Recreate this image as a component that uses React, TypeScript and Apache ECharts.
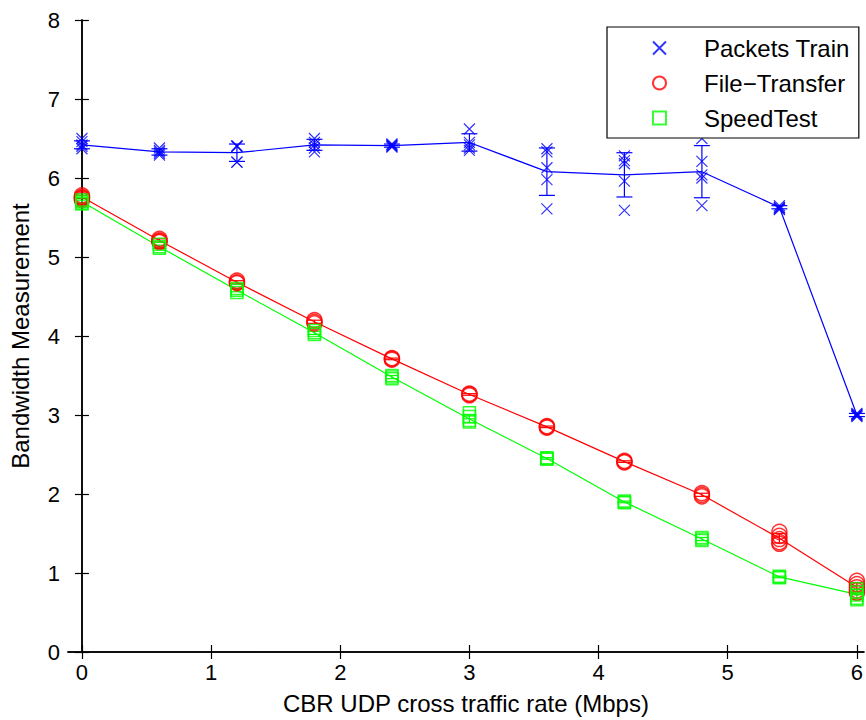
import React, { useEffect, useRef } from "react";
import * as echarts from "echarts";

const rates = [0, 0.6, 1.2, 1.8, 2.4, 3.0, 3.6, 4.2, 4.8, 5.4, 6.0];
const xTicks = [0, 1, 2, 3, 4, 5, 6];

const trainTrials = [
  [6.5, 6.46, 6.42, 6.4, 6.37],
  [6.38, 6.35, 6.33, 6.31, 6.29],
  [6.41, 6.4, 6.4, 6.2, 6.2],
  [6.5, 6.45, 6.42, 6.38, 6.33],
  [6.43, 6.42, 6.41, 6.4, 6.39],
  [6.62, 6.45, 6.42, 6.38, 6.35],
  [6.37, 6.33, 6.13, 5.98, 5.61],
  [6.28, 6.22, 6.18, 5.96, 5.59],
  [6.5, 6.21, 6.04, 6.0, 5.65],
  [5.65, 5.63, 5.62, 5.61, 5.6],
  [3.02, 3.01, 3.0, 2.99, 2.98],
];
const trainMean = [6.42, 6.33, 6.32, 6.42, 6.41, 6.45, 6.08, 6.04, 6.08, 5.63, 3.0];
const trainErr = [0.05, 0.04, 0.11, 0.07, 0.02, 0.11, 0.3, 0.28, 0.33, 0.02, 0.02];

const fileTrials = [
  [5.78, 5.76, 5.75, 5.74, 5.72],
  [5.23, 5.21, 5.2, 5.19],
  [4.7, 4.68, 4.67],
  [4.2, 4.18, 4.16],
  [3.72, 3.71, 3.7],
  [3.27, 3.26, 3.25],
  [2.86, 2.85, 2.84],
  [2.42, 2.41, 2.4],
  [2.01, 1.99, 1.97],
  [1.52, 1.47, 1.43, 1.39, 1.37],
  [0.9, 0.86, 0.82, 0.78, 0.75],
];
const fileMean = [5.76, 5.21, 4.68, 4.18, 3.71, 3.26, 2.85, 2.41, 1.99, 1.44, 0.82];
const fileErr = [0.02, 0.02, 0.02, 0.02, 0.01, 0.01, 0.01, 0.01, 0.02, 0.06, 0.06];

const speedTrials = [
  [5.72, 5.7, 5.68, 5.67],
  [5.16, 5.13, 5.11],
  [4.6, 4.58, 4.55],
  [4.07, 4.04, 4.02],
  [3.5, 3.48, 3.46],
  [3.03, 2.98, 2.93, 2.91],
  [2.46, 2.45, 2.44],
  [1.91, 1.9, 1.89],
  [1.45, 1.43, 1.41],
  [0.96, 0.95, 0.94],
  [0.8, 0.76, 0.72, 0.68, 0.66],
];
const speedMean = [5.7, 5.13, 4.58, 4.04, 3.48, 2.95, 2.45, 1.9, 1.43, 0.95, 0.73];
const speedErr = [0.02, 0.02, 0.02, 0.02, 0.02, 0.05, 0.01, 0.01, 0.02, 0.01, 0.06];

const names = ["Packets Train", "File\u2212Transfer", "SpeedTest"];
const colors = ["#0000ff", "#ff0000", "#00ff00"];

const FONT = "'Liberation Sans', Arial, Helvetica, sans-serif";
const CROSS = "path://M0 0L10 10M10 0L0 10";
const SQUARE = "path://M0 0L10 0L10 10L0 10Z";

function flatten(trials: number[][]) {
  const out: number[][] = [];
  trials.forEach((arr, i) => arr.forEach((v) => out.push([rates[i], v])));
  return out;
}

function errData(mean: number[], err: number[]) {
  return rates.map((x, i) => [x, mean[i] - err[i], mean[i] + err[i]]);
}

function errSeries(mean: number[], err: number[], color: string, cap: number) {
  return {
    type: "custom",
    name: "err_" + color,
    data: errData(mean, err),
    encode: { x: 0, y: [1, 2] },
    z: 3,
    renderItem: (params: any, api: any) => {
      const x = api.value(0);
      const lo = api.coord([x, api.value(1)]);
      const hi = api.coord([x, api.value(2)]);
      const st = { stroke: color, lineWidth: 1.2 };
      return {
        type: "group",
        children: [
          { type: "line", shape: { x1: lo[0], y1: lo[1], x2: hi[0], y2: hi[1] }, style: st },
          { type: "line", shape: { x1: lo[0] - cap, y1: lo[1], x2: lo[0] + cap, y2: lo[1] }, style: st },
          { type: "line", shape: { x1: hi[0] - cap, y1: hi[1], x2: hi[0] + cap, y2: hi[1] }, style: st },
        ],
      };
    },
  };
}

function lineSeries(mean: number[], color: string) {
  return {
    type: "line",
    name: "mean_" + color,
    data: rates.map((x, i) => [x, mean[i]]),
    showSymbol: false,
    symbol: "none",
    lineStyle: { color, width: 1.2 },
    z: 2,
  };
}

export default function App() {
  const ref = useRef<HTMLDivElement>(null);
  useEffect(() => {
    if (!ref.current) return;
    const chart = echarts.init(ref.current, undefined, { renderer: "svg" });
    const axisLine = { show: true, lineStyle: { color: "#000", width: 1.5 } };
    const option: any = {
      animation: false,
      backgroundColor: "#fff",
      grid: { left: 67, top: 20, width: 798, bottom: 66 },
      xAxis: [
        {
          type: "value",
          min: -0.108,
          max: 6.054,
          position: "bottom",
          axisLine,
          axisTick: { show: true, inside: true, length: 7, customValues: xTicks, lineStyle: { color: "#000", width: 1.2 } },
          axisLabel: { show: true, customValues: xTicks, margin: 9, fontSize: 22, color: "#000", fontFamily: FONT },
          splitLine: { show: false },
          name: "CBR UDP cross traffic rate (Mbps)",
          nameLocation: "middle",
          nameGap: 39,
          nameTextStyle: { fontSize: 24, color: "#000", fontFamily: FONT },
        },
        {
          type: "value",
          min: -0.108,
          max: 6.054,
          position: "top",
          axisLine,
          axisTick: { show: true, inside: true, length: 7, customValues: xTicks, lineStyle: { color: "#000", width: 1.2 } },
          axisLabel: { show: false },
          splitLine: { show: false },
        },
      ],
      yAxis: [
        {
          type: "value",
          min: 0,
          max: 8,
          interval: 1,
          position: "left",
          axisLine,
          axisTick: { show: true, inside: true, length: 7, lineStyle: { color: "#000", width: 1.2 } },
          axisLabel: { show: true, margin: 8, fontSize: 22, color: "#000", fontFamily: FONT },
          splitLine: { show: false },
          name: "Bandwidth Measurement",
          nameLocation: "middle",
          nameGap: 36,
          nameRotate: 90,
          nameTextStyle: { fontSize: 24, color: "#000", fontFamily: FONT },
        },
        {
          type: "value",
          min: 0,
          max: 8,
          interval: 1,
          position: "right",
          axisLine,
          axisTick: { show: true, inside: true, length: 7, lineStyle: { color: "#000", width: 1.2 } },
          axisLabel: { show: false },
          splitLine: { show: false },
        },
      ],
      legend: {
        data: names,
        orient: "vertical",
        left: 607,
        top: 27,
        padding: [9, 9, 8, 45],
        itemGap: 11,
        itemWidth: 13,
        itemHeight: 13,
        selectedMode: false,
        backgroundColor: "#fff",
        borderColor: "#000",
        borderWidth: 1.2,
        borderRadius: 0,
        textStyle: { fontSize: 24, color: "#000", fontFamily: FONT, lineHeight: 24, padding: [0, 0, 0, 33] },
        z: 10,
      },
      series: [
        lineSeries(trainMean, colors[0]),
        lineSeries(fileMean, colors[1]),
        lineSeries(speedMean, colors[2]),
        errSeries(trainMean, trainErr, colors[0], 8),
        errSeries(fileMean, fileErr, colors[1], 7),
        errSeries(speedMean, speedErr, colors[2], 7),
        {
          type: "scatter",
          name: names[0],
          data: flatten(trainTrials),
          symbol: CROSS,
          symbolSize: 11,
          itemStyle: { color: "rgba(0,0,0,0)", borderColor: colors[0], borderWidth: 1.2 },
          z: 4,
        },
        {
          type: "scatter",
          name: names[1],
          data: flatten(fileTrials),
          symbol: "circle",
          symbolSize: 15,
          itemStyle: { color: "rgba(0,0,0,0)", borderColor: colors[1], borderWidth: 1.5 },
          z: 4,
        },
        {
          type: "scatter",
          name: names[2],
          data: flatten(speedTrials),
          symbol: SQUARE,
          symbolSize: 12,
          itemStyle: { color: "rgba(0,0,0,0)", borderColor: colors[2], borderWidth: 1.5 },
          z: 4,
        },
      ],
    };
    chart.setOption(option);
    return () => chart.dispose();
  }, []);
  return (
    <div
      ref={ref}
      style={{ position: "fixed", left: 0, top: 0, width: 866, height: 720, background: "#fff" }}
    />
  );
}
